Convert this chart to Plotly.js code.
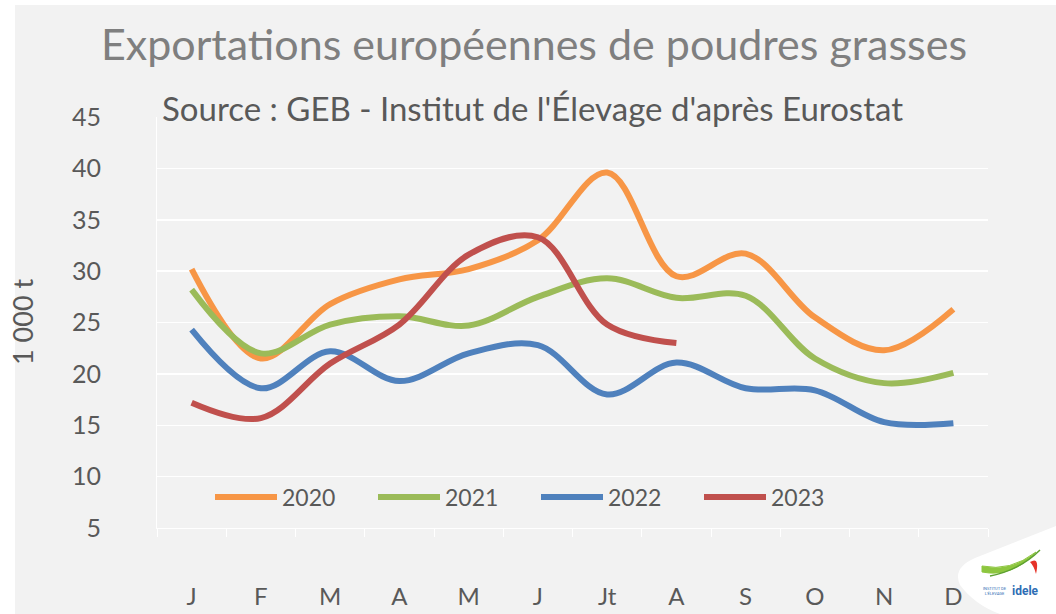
<!DOCTYPE html>
<html>
<head>
<meta charset="utf-8">
<script src="https://cdn.plot.ly/plotly-3.0.1.min.js"></script>
<style>html,body{margin:0;padding:0;background:#fff;}#chart{width:1056px;height:614px;}</style>
</head>
<body>
<div id="chart"></div>
<script>
const months = ['J','F','M','A','M','J','Jt','A','S','O','N','D'];
const years = ['2020','2021','2022','2023'];
const v2020 = [30.2, 21.5, 26.8, 29.2, 30.2, 33.0, 39.6, 29.5, 31.7, 25.5, 22.3, 26.3];
const v2021 = [28.2, 22.0, 24.8, 25.6, 24.7, 27.5, 29.3, 27.4, 27.6, 21.5, 19.1, 20.1];
const v2022 = [24.3, 18.6, 22.2, 19.3, 22.0, 22.8, 18.0, 21.1, 18.6, 18.4, 15.3, 15.2];
const v2023 = [17.2, 15.7, 21.0, 24.8, 31.6, 33.3, 24.8, 23.0];
const colors = ['#F79646', '#9BBB59', '#4F81BD', '#C0504D'];
const yTicks = [5, 10, 15, 20, 25, 30, 35, 40, 45];

const FONT = 'Lato, "Noto Sans", sans-serif';
const series = [v2020, v2021, v2022, v2023];
const xs = months.map((m, i) => i + 1);

const traces = series.map((vals, k) => ({
  type: 'scatter', mode: 'lines', name: years[k],
  x: xs.slice(0, vals.length), y: vals,
  line: {color: colors[k], width: 6, shape: 'spline', smoothing: 1},
  hoverinfo: 'x+y'
}));

// plot area pixel box: x 157..988, y 117..528
const L = 157, R = 988, T = 117, B = 528;
const px = x => (x - L) / (R - L);
const py = y => (B - y) / (B - T);

const layout = {
  width: 1056, height: 614,
  paper_bgcolor: '#F2F2F2', plot_bgcolor: '#F2F2F2',
  margin: {l: L, r: 1056 - R, t: T, b: 614 - B},
  font: {family: FONT, color: '#595959'},
  title: {text: 'Exportations européennes de poudres grasses', font: {family: FONT, size: 43, color: '#7F7F7F'},
          x: 534 / 1056, xref: 'container', xanchor: 'center', y: 1 - 45 / 614, yref: 'container', yanchor: 'middle'},
  showlegend: true,
  legend: {orientation: 'h', x: px(210), xanchor: 'left', y: py(497), yanchor: 'middle',
           bgcolor: 'rgba(0,0,0,0)', font: {family: FONT, size: 23, color: '#595959'},
           itemwidth: 62, entrywidth: 86, entrywidthmode: 'pixels', tracegroupgap: 0},
  xaxis: {range: [0.5, 12.5], tickvals: xs, ticktext: months, ticks: '', showgrid: false, zeroline: false,
          showline: true, linecolor: '#FFFFFF', linewidth: 1,
          tickfont: {family: FONT, size: 24, color: '#595959'}, ticklabelstandoff: 47,
          minor: {tick0: 0.5, dtick: 1, ticks: 'outside', ticklen: 8, tickcolor: '#FFFFFF', tickwidth: 1, showgrid: false},
          fixedrange: true},
  yaxis: {range: [5, 45], tickvals: yTicks, showgrid: true, gridcolor: '#FFFFFF', gridwidth: 1.5, zeroline: false,
          showline: true, linecolor: '#FFFFFF', linewidth: 1, ticks: '',
          tickfont: {family: FONT, size: 25, color: '#595959'}, ticklabelstandoff: 50, fixedrange: true},
  shapes: [
    {type: 'rect', xref: 'paper', yref: 'paper', x0: px(0), x1: px(1056), y0: py(0), y1: py(5), fillcolor: '#FFFFFF', line: {width: 0}, layer: 'below'},
    {type: 'rect', xref: 'paper', yref: 'paper', x0: px(0), x1: px(15), y0: py(0), y1: py(614), fillcolor: '#FFFFFF', line: {width: 0}, layer: 'below'},
    {type: 'path', xref: 'paper', yref: 'paper', fillcolor: '#FFFFFF', line: {width: 0},
     path: `M ${px(960)} ${py(585)} Q ${px(952)} ${py(568)} ${px(975)} ${py(558)} L ${px(1056)} ${py(526)} L ${px(1056)} ${py(614)} L ${px(1000)} ${py(614)} Q ${px(975)} ${py(605)} ${px(960)} ${py(585)} Z`},
    {type: 'path', xref: 'paper', yref: 'paper', fillcolor: '#8DC63F', line: {color: '#8DC63F', width: 1},
     path: `M ${px(982)} ${py(566)} Q ${px(1010)} ${py(572)} ${px(1036)} ${py(552)} Q ${px(1012)} ${py(578)} ${px(982)} ${py(572)} Z`},
    {type: 'path', xref: 'paper', yref: 'paper', fillcolor: 'rgba(0,0,0,0)', line: {color: '#5DA130', width: 1.5},
     path: `M ${px(990)} ${py(576)} Q ${px(1020)} ${py(570)} ${px(1040)} ${py(550)}`},
    {type: 'path', xref: 'paper', yref: 'paper', fillcolor: '#E63329', line: {width: 0},
     path: `M ${px(1030)} ${py(562)} Q ${px(1040)} ${py(556)} ${px(1036)} ${py(574)} Q ${px(1034)} ${py(566)} ${px(1030)} ${py(562)} Z`}
  ],
  annotations: [
    {text: "Source : GEB - Institut de l'Élevage d'après Eurostat", xref: 'paper', yref: 'paper', x: px(532), y: py(108),
     xanchor: 'center', yanchor: 'middle', showarrow: false, font: {family: FONT, size: 33, color: '#595959'}},
    {text: '1 000 t', xref: 'paper', yref: 'paper', x: px(22), y: py(322), textangle: -90,
     xanchor: 'center', yanchor: 'middle', showarrow: false, font: {family: FONT, size: 27, color: '#595959'}},
    {text: '<b>idele</b>', xref: 'paper', yref: 'paper', x: px(1025), y: py(591), xanchor: 'center', yanchor: 'middle',
     showarrow: false, font: {family: 'Roboto, sans-serif', size: 12, color: '#2E6DB4'}},
    {text: 'INSTITUT DE<br>L\'ÉLEVAGE', xref: 'paper', yref: 'paper', x: px(995), y: py(591), xanchor: 'center', yanchor: 'middle',
     showarrow: false, font: {family: 'Roboto, sans-serif', size: 4, color: '#2E6DB4'}}
  ]
};

Plotly.newPlot('chart', traces, layout, {displayModeBar: false, staticPlot: true});
</script>
</body>
</html>
